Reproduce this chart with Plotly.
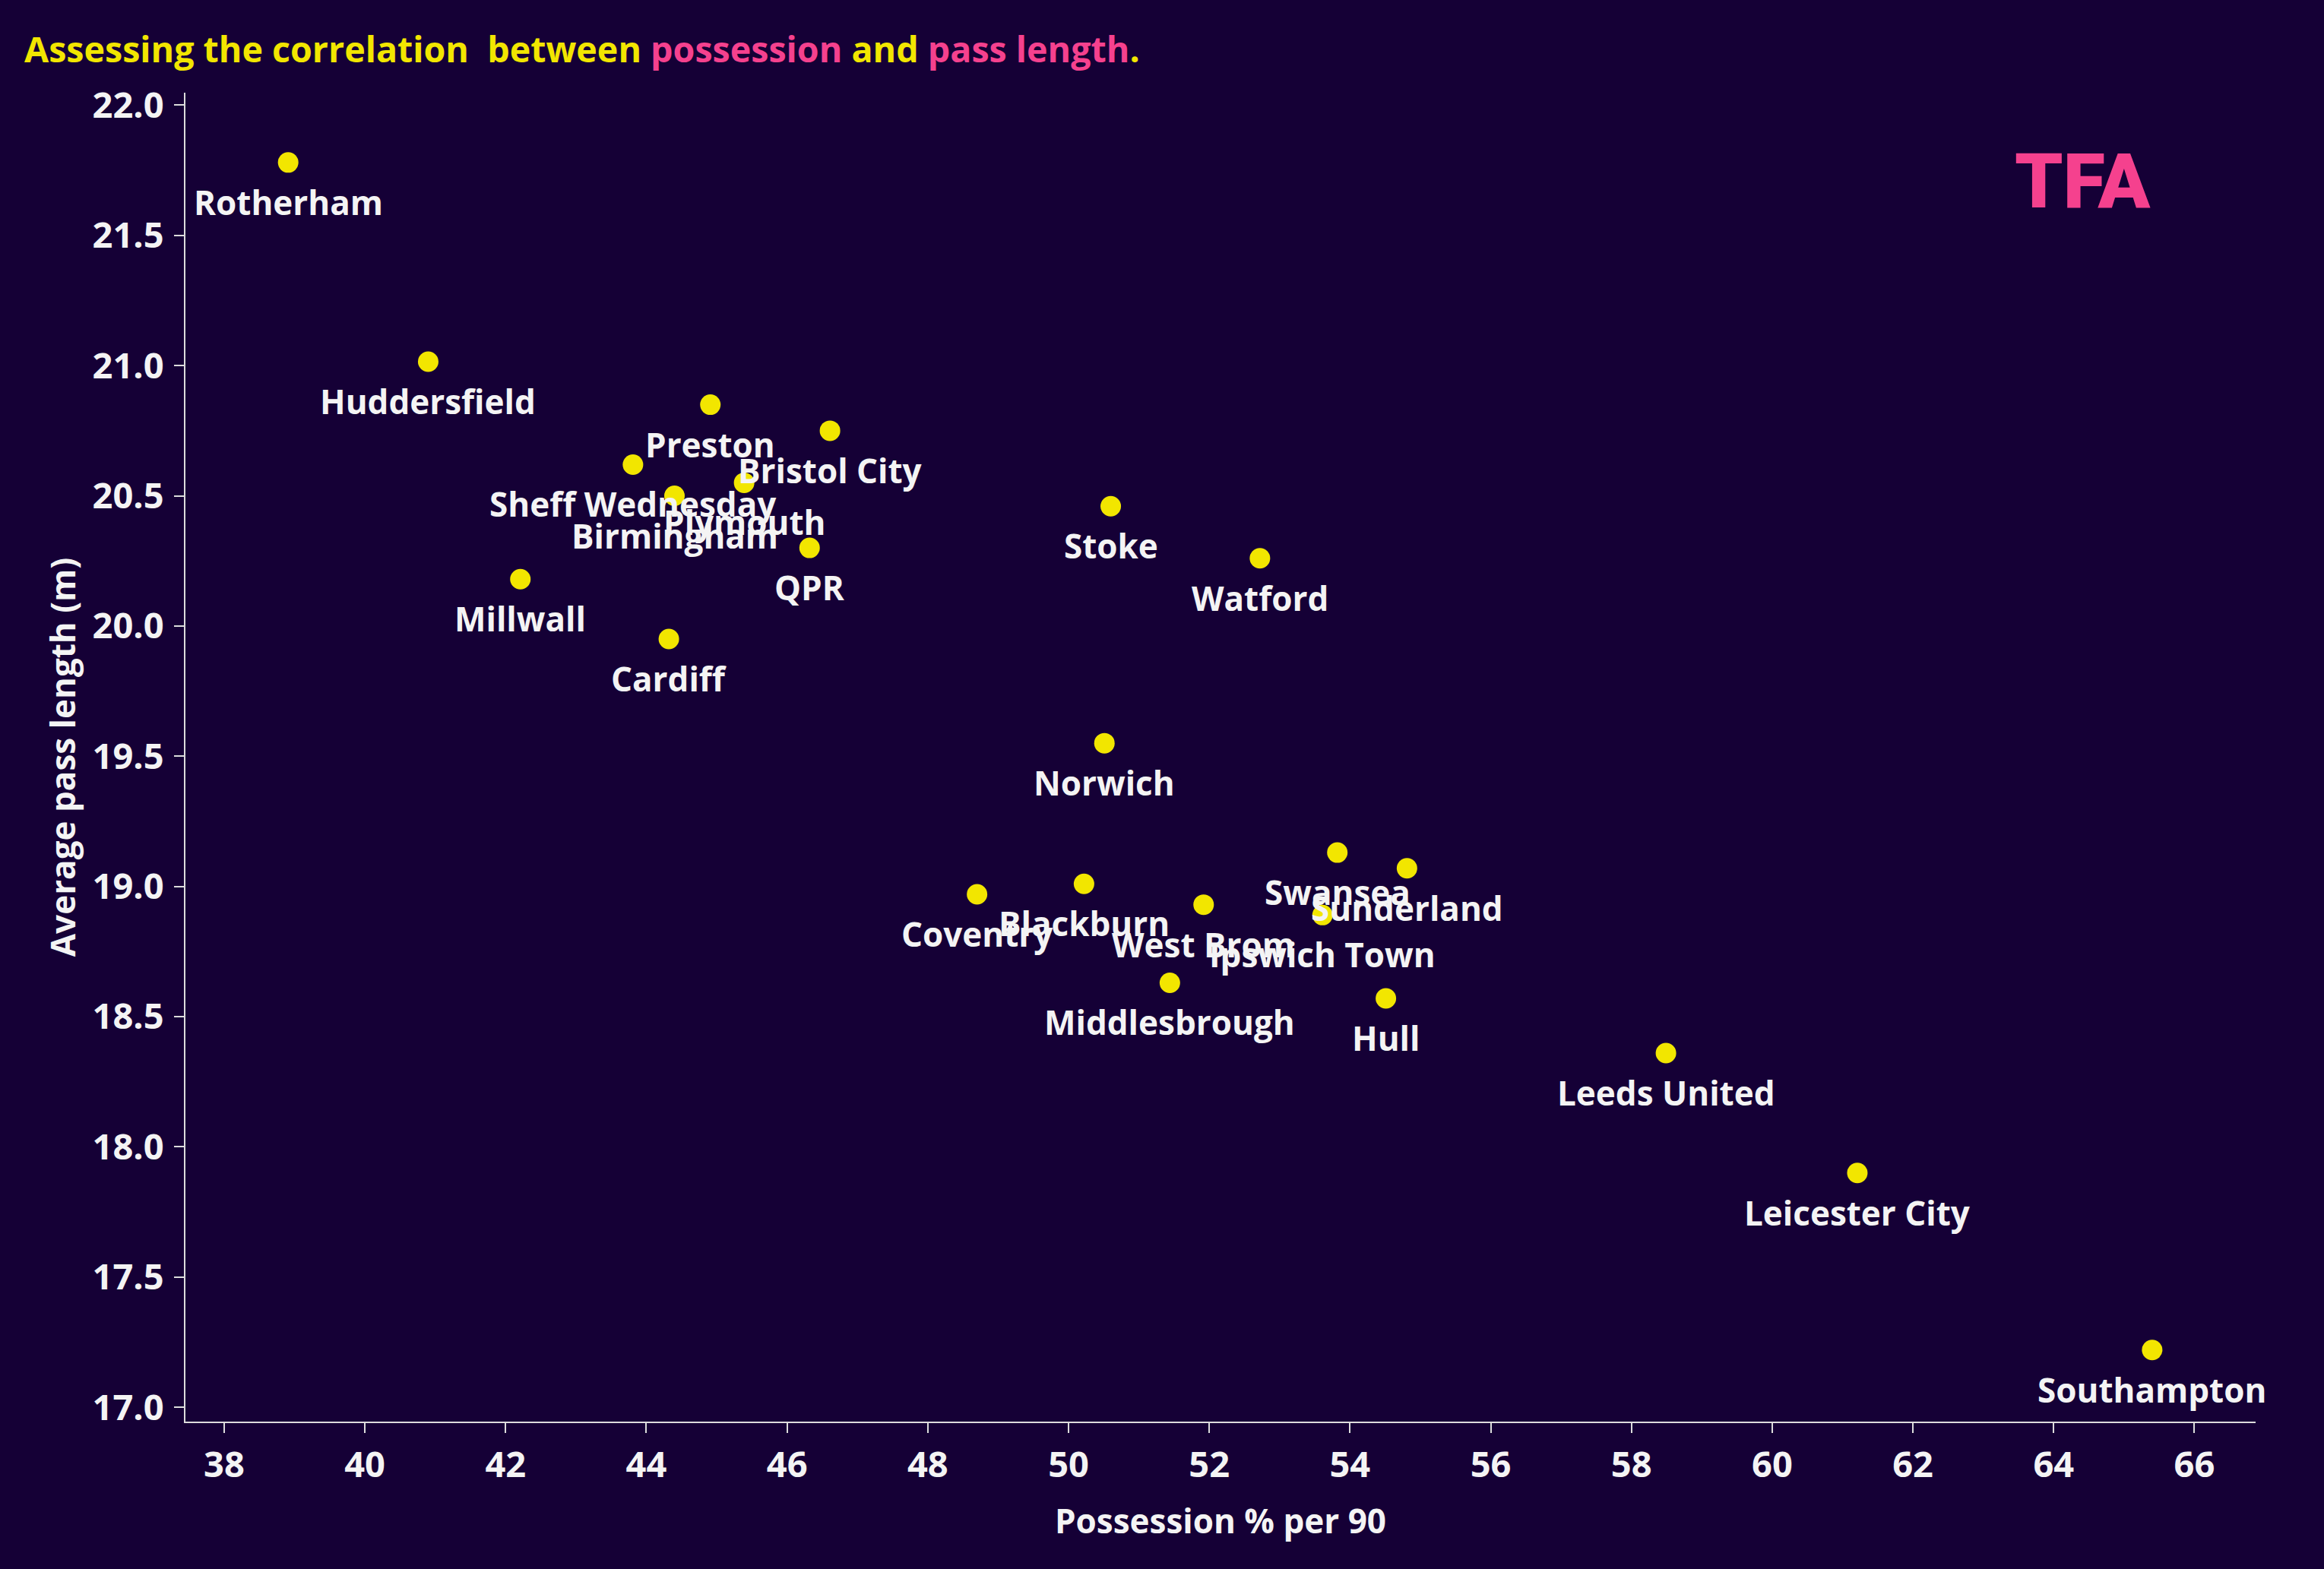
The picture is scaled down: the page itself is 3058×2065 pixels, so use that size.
import plotly.graph_objects as go

teams = ["Rotherham", "Huddersfield", "Preston", "Bristol City", "Sheff Wednesday",
         "Birmingham", "Plymouth", "QPR", "Millwall", "Cardiff", "Stoke", "Watford",
         "Norwich", "Coventry", "Blackburn", "West Brom", "Swansea", "Sunderland",
         "Ipswich Town", "Middlesbrough", "Hull", "Leeds United", "Leicester City",
         "Southampton"]
possession = [38.91, 40.90, 44.91, 46.61, 43.81, 44.40, 45.39, 46.32, 42.21, 44.32,
              50.60, 52.72, 50.51, 48.70, 50.22, 51.92, 53.82, 54.81, 53.61, 51.44,
              54.51, 58.49, 61.21, 65.40]
pass_length = [21.78, 21.015, 20.85, 20.75, 20.62, 20.50, 20.55, 20.30, 20.18, 19.95,
               20.46, 20.26, 19.55, 18.97, 19.01, 18.93, 19.13, 19.07, 18.89, 18.63,
               18.57, 18.36, 17.90, 17.22]
x_ticks = list(range(38, 67, 2))
y_ticks = [17.0, 17.5, 18.0, 18.5, 19.0, 19.5, 20.0, 20.5, 21.0, 21.5, 22.0]

BG = "#150036"
YELLOW = "#f2e600"
PINK = "#f5418e"
WHITE = "#f4f4f4"
FONT = "Open Sans"

W, H = 3058, 2065
L, R, T, B = 244, 90, 122, 194

fig = go.Figure()
fig.add_trace(go.Scatter(
    x=possession, y=pass_length,
    mode="markers",
    marker=dict(color=YELLOW, size=27, line=dict(width=0)),
    text=teams, hoverinfo="text", showlegend=False, cliponaxis=False,
))

for name, xv, yv in zip(teams, possession, pass_length):
    fig.add_annotation(
        x=xv, y=yv, text=name, showarrow=False,
        xanchor="center", yanchor="middle", yshift=-52,
        font=dict(family=FONT, size=44, color=WHITE, weight=700),
    )

axis_common = dict(
    showgrid=False, zeroline=False, showline=True, linecolor="#dcdcdc", linewidth=2,
    ticks="outside", ticklen=13, tickwidth=2, tickcolor="#dcdcdc",
    tickfont=dict(family=FONT, size=47, color=WHITE, weight=700),
    title_font=dict(family=FONT, size=44, color=WHITE, weight=700),
)

fig.update_layout(
    width=W, height=H,
    margin=dict(l=L, r=R, t=T, b=B, pad=0),
    paper_bgcolor=BG, plot_bgcolor=BG,
    xaxis=dict(range=[37.45, 66.87], tickvals=x_ticks, ticktext=[str(v) for v in x_ticks],
               title_text="Possession % per 90", title_standoff=30, ticklabelstandoff=2,
               **axis_common),
    yaxis=dict(range=[16.945, 22.048], tickvals=y_ticks, ticktext=[f"{v:.1f}" for v in y_ticks],
               title_text="Average pass length (m)", title_standoff=8, ticklabelstandoff=4,
               **axis_common),
)

plot_w = W - L - R
plot_h = H - T - B
title_text = ("Assessing the correlation&nbsp; between "
              f"<span style='color:{PINK}'>possession</span> and "
              f"<span style='color:{PINK}'>pass length</span>.")
fig.add_annotation(
    xref="paper", yref="paper",
    x=(30 - L) / plot_w, y=1 + (T - 64) / plot_h,
    xanchor="left", yanchor="middle", showarrow=False,
    text=title_text,
    font=dict(family=FONT, size=46.6, color=YELLOW, weight=700),
)
fig.add_annotation(
    xref="paper", yref="paper",
    x=(2740 - L) / plot_w, y=1 - (238 - T) / plot_h,
    xanchor="center", yanchor="middle", showarrow=False,
    text="TFA",
    font=dict(family="Roboto", size=101, color=PINK, weight=900),
)

fig.write_html("out.html", config={"displayModeBar": False},
               post_script="document.body.style.margin='0';")
